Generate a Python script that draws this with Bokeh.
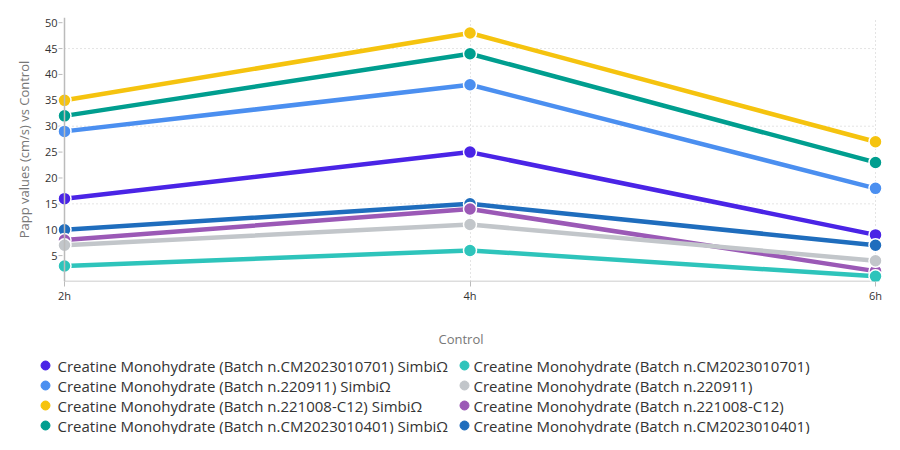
from bokeh.plotting import figure
from bokeh.layouts import column
from bokeh.models import (ColumnDataSource, FixedTicker, Span, Range1d)
from bokeh.core.properties import value
from bokeh.embed import file_html
from bokeh.resources import INLINE

# ---- data ----
x_vals = [2, 4, 6]
x_labels = ["2h", "4h", "6h"]

names = [
    "Creatine Monohydrate (Batch n.CM2023010701) SimbiΩ",
    "Creatine Monohydrate (Batch n.220911) SimbiΩ",
    "Creatine Monohydrate (Batch n.221008-C12) SimbiΩ",
    "Creatine Monohydrate (Batch n.CM2023010401) SimbiΩ",
    "Creatine Monohydrate (Batch n.CM2023010701)",
    "Creatine Monohydrate (Batch n.220911)",
    "Creatine Monohydrate (Batch n.221008-C12)",
    "Creatine Monohydrate (Batch n.CM2023010401)",
]
simbi_cm0701 = [16, 25, 9]
simbi_220911 = [29, 38, 18]
simbi_221008 = [35, 48, 27]
simbi_cm0401 = [32, 44, 23]
ctrl_cm0701 = [3, 6, 1]
ctrl_220911 = [7, 11, 4]
ctrl_221008 = [8, 14, 2]
ctrl_cm0401 = [10, 15, 7]
series = [simbi_cm0701, simbi_220911, simbi_221008, simbi_cm0401,
          ctrl_cm0701, ctrl_220911, ctrl_221008, ctrl_cm0401]
colors = ["#4a24e6", "#4b8ff0", "#f5c30f", "#009e8f",
          "#2ec4bb", "#c2c6ca", "#9b59b6", "#1f6dbd"]

y_ticks = [5, 10, 15, 20, 25, 30, 35, 40, 45, 50]
grid_ticks = [15, 30, 45]

FONT = "Open Sans"
W = 884
LEFT, RIGHT = 38, 1
px_per_unit = 811 / 4
p = figure(width=W, height=350, output_backend="svg", toolbar_location=None,
           x_range=Range1d(2 - 26 / px_per_unit, 6 + 8 / px_per_unit),
           y_range=Range1d(0, 51),
           min_border_left=LEFT, min_border_right=RIGHT, min_border_top=17,
           min_border_bottom=68)
p.outline_line_color = None
p.background_fill_color = "white"

GRID_COLOR = "#c8c8c8"
AXIS_COLOR = "#bbbbbb"

# grids
p.ygrid.visible = False
p.xgrid.ticker = FixedTicker(ticks=x_vals)
p.xgrid.grid_line_color = GRID_COLOR
p.xgrid.grid_line_dash = "1 3"
gsrc = ColumnDataSource(dict(x0=[x_vals[0]] * len(grid_ticks), x1=[x_vals[-1]] * len(grid_ticks),
                             y=grid_ticks))
p.segment("x0", "y", "x1", "y", source=gsrc, line_color=GRID_COLOR, line_dash="1 3", line_width=1)

# axes
p.xaxis.ticker = FixedTicker(ticks=x_vals)
p.xaxis.major_label_overrides = {x: l for x, l in zip(x_vals, x_labels)}
p.xaxis.axis_label = "Control"
p.xaxis.axis_line_color = None
p.xaxis.major_tick_line_color = AXIS_COLOR
p.xaxis.major_tick_out = 5
p.xaxis.major_tick_in = 0
p.xaxis.minor_tick_line_color = None
p.xaxis.major_label_standoff = 1
p.xaxis.axis_label_standoff = 24

p.yaxis.ticker = FixedTicker(ticks=y_ticks)
p.yaxis.axis_label = "Papp values (cm/s) vs Control"
p.yaxis.axis_line_color = None
p.yaxis.major_tick_line_color = None
p.yaxis.major_tick_out = 0
p.yaxis.major_tick_in = 0
p.yaxis.minor_tick_line_color = None
p.yaxis.major_label_standoff = -19
p.yaxis.axis_label_standoff = 9

for ax in (p.xaxis, p.yaxis):
    ax.major_label_text_font = FONT
    ax.major_label_text_font_size = "11px"
    ax.major_label_text_color = "#333333"
    ax.axis_label_text_font = FONT
    ax.axis_label_text_font_size = "13px"
    ax.axis_label_text_font_style = "normal"
    ax.axis_label_text_color = "#777777"

# axis lines at the data edges
p.add_layout(Span(location=x_vals[0], dimension="height", line_color=AXIS_COLOR, line_width=1.5))
asrc = ColumnDataSource(dict(x0=[x_vals[0]], x1=[x_vals[-1]], y=[0]))
p.segment("x0", "y", "x1", "y", source=asrc, line_color=AXIS_COLOR, line_width=1.5)
# small y ticks left of the axis line
tsrc = ColumnDataSource(dict(x=[x_vals[0] - 4 / px_per_unit] * len(y_ticks), y=y_ticks))
p.scatter("x", "y", source=tsrc, marker="dash", size=4, line_color=AXIS_COLOR)

# series
draw_order = [0, 1, 2, 3, 7, 6, 5, 4]
for i in draw_order:
    src = ColumnDataSource(dict(x=x_vals, y=series[i]))
    p.line("x", "y", source=src, line_color=colors[i], line_width=4.5)
for i in draw_order:
    src = ColumnDataSource(dict(x=x_vals, y=series[i]))
    p.scatter("x", "y", source=src, size=13, fill_color=colors[i],
              line_color="white", line_width=1.5)

# ---- legend strip (page-pixel coordinates; frame aligned with the chart's) ----
LH = 84
p2 = figure(width=W, height=LH, output_backend="svg", toolbar_location=None,
            x_range=Range1d(LEFT, W - RIGHT), y_range=Range1d(LH, 0),
            x_axis_location=None, y_axis_location=None,
            min_border=0, min_border_left=LEFT, min_border_right=RIGHT,
            min_border_top=0, min_border_bottom=0)
p2.outline_line_color = None
p2.grid.visible = False

col_x = [45, 464]
text_gap = [12, 9]
row_h = 20
top = 15
mx, my, tx = [], [], []
for k in range(len(names)):
    c, r = divmod(k, 4)
    mx.append(col_x[c])
    my.append(top + r * row_h)
    tx.append(col_x[c] + text_gap[c])
leg = ColumnDataSource(dict(mx=mx, my=my, tx=tx, name=names, color=colors))
p2.scatter("mx", "my", source=leg, size=9, fill_color="color", line_color="color")
p2.text("tx", "my", text="name", source=leg, text_font=value(FONT),
        text_font_size=value("15px"), text_color="#333333", text_baseline="middle")

layout = column(p, p2, spacing=0)
open("out.html", "w").write(file_html(layout, INLINE))
